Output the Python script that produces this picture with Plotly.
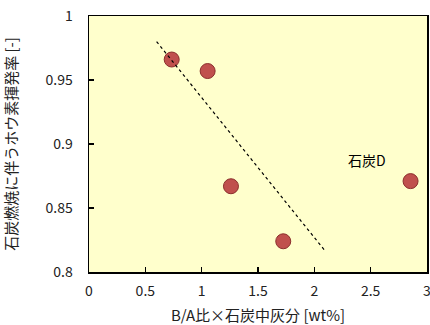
import plotly.graph_objects as go

x_vals = [0.734, 1.053, 1.26, 1.724, 2.854]
y_vals = [0.966, 0.957, 0.867, 0.824, 0.871]
trend_x = [0.6, 2.1]
trend_y = [0.98, 0.816]
label_text = "石炭D"
label_pos = (2.47, 0.8875)

font_family = "Noto Sans CJK JP, Noto Sans, sans-serif"

fig = go.Figure()
fig.add_trace(go.Scatter(
    x=x_vals, y=y_vals, mode="markers",
    marker=dict(size=15, color="#C0504D", line=dict(color="#8B2E2C", width=1)),
    showlegend=False, cliponaxis=False,
))
fig.add_trace(go.Scatter(
    x=trend_x, y=trend_y, mode="lines",
    line=dict(color="black", width=1.2, dash="dot"),
    showlegend=False,
))
fig.add_annotation(x=label_pos[0], y=label_pos[1], text=label_text, showarrow=False,
                   font=dict(size=14, color="black", family=font_family))

axis_common = dict(
    showgrid=False, zeroline=False, showline=True, linecolor="black", linewidth=1.5,
    mirror=True, ticks="inside", ticklen=5, tickcolor="black", tickwidth=1.2,
    automargin=False, ticklabeloverflow="allow",
    tickfont=dict(size=14, color="#222222", family=font_family),
)
fig.update_xaxes(range=[0, 3], dtick=0.5, tick0=0, ticklabelstandoff=6, **axis_common,
                 title=dict(text="B/A比×石炭中灰分 [wt%]", standoff=14,
                            font=dict(size=15, color="#222222", family=font_family)))
fig.update_yaxes(range=[0.8, 1.0], dtick=0.05, tick0=0.8, ticklabelstandoff=12, **axis_common,
                 title=dict(text="石炭燃焼に伴うホウ素揮発率 [-]", standoff=26,
                            font=dict(size=15, color="#222222", family=font_family)))
fig.update_layout(
    width=430, height=325,
    margin=dict(l=89, r=3, t=16, b=53),
    plot_bgcolor="#FFFFCC", paper_bgcolor="white",
    font=dict(family=font_family),
)
fig.write_html(
    "out.html",
    config={"displayModeBar": False, "staticPlot": True},
    post_script="document.body.style.margin='0';document.documentElement.style.overflow='hidden';document.body.style.overflow='hidden';",
)
